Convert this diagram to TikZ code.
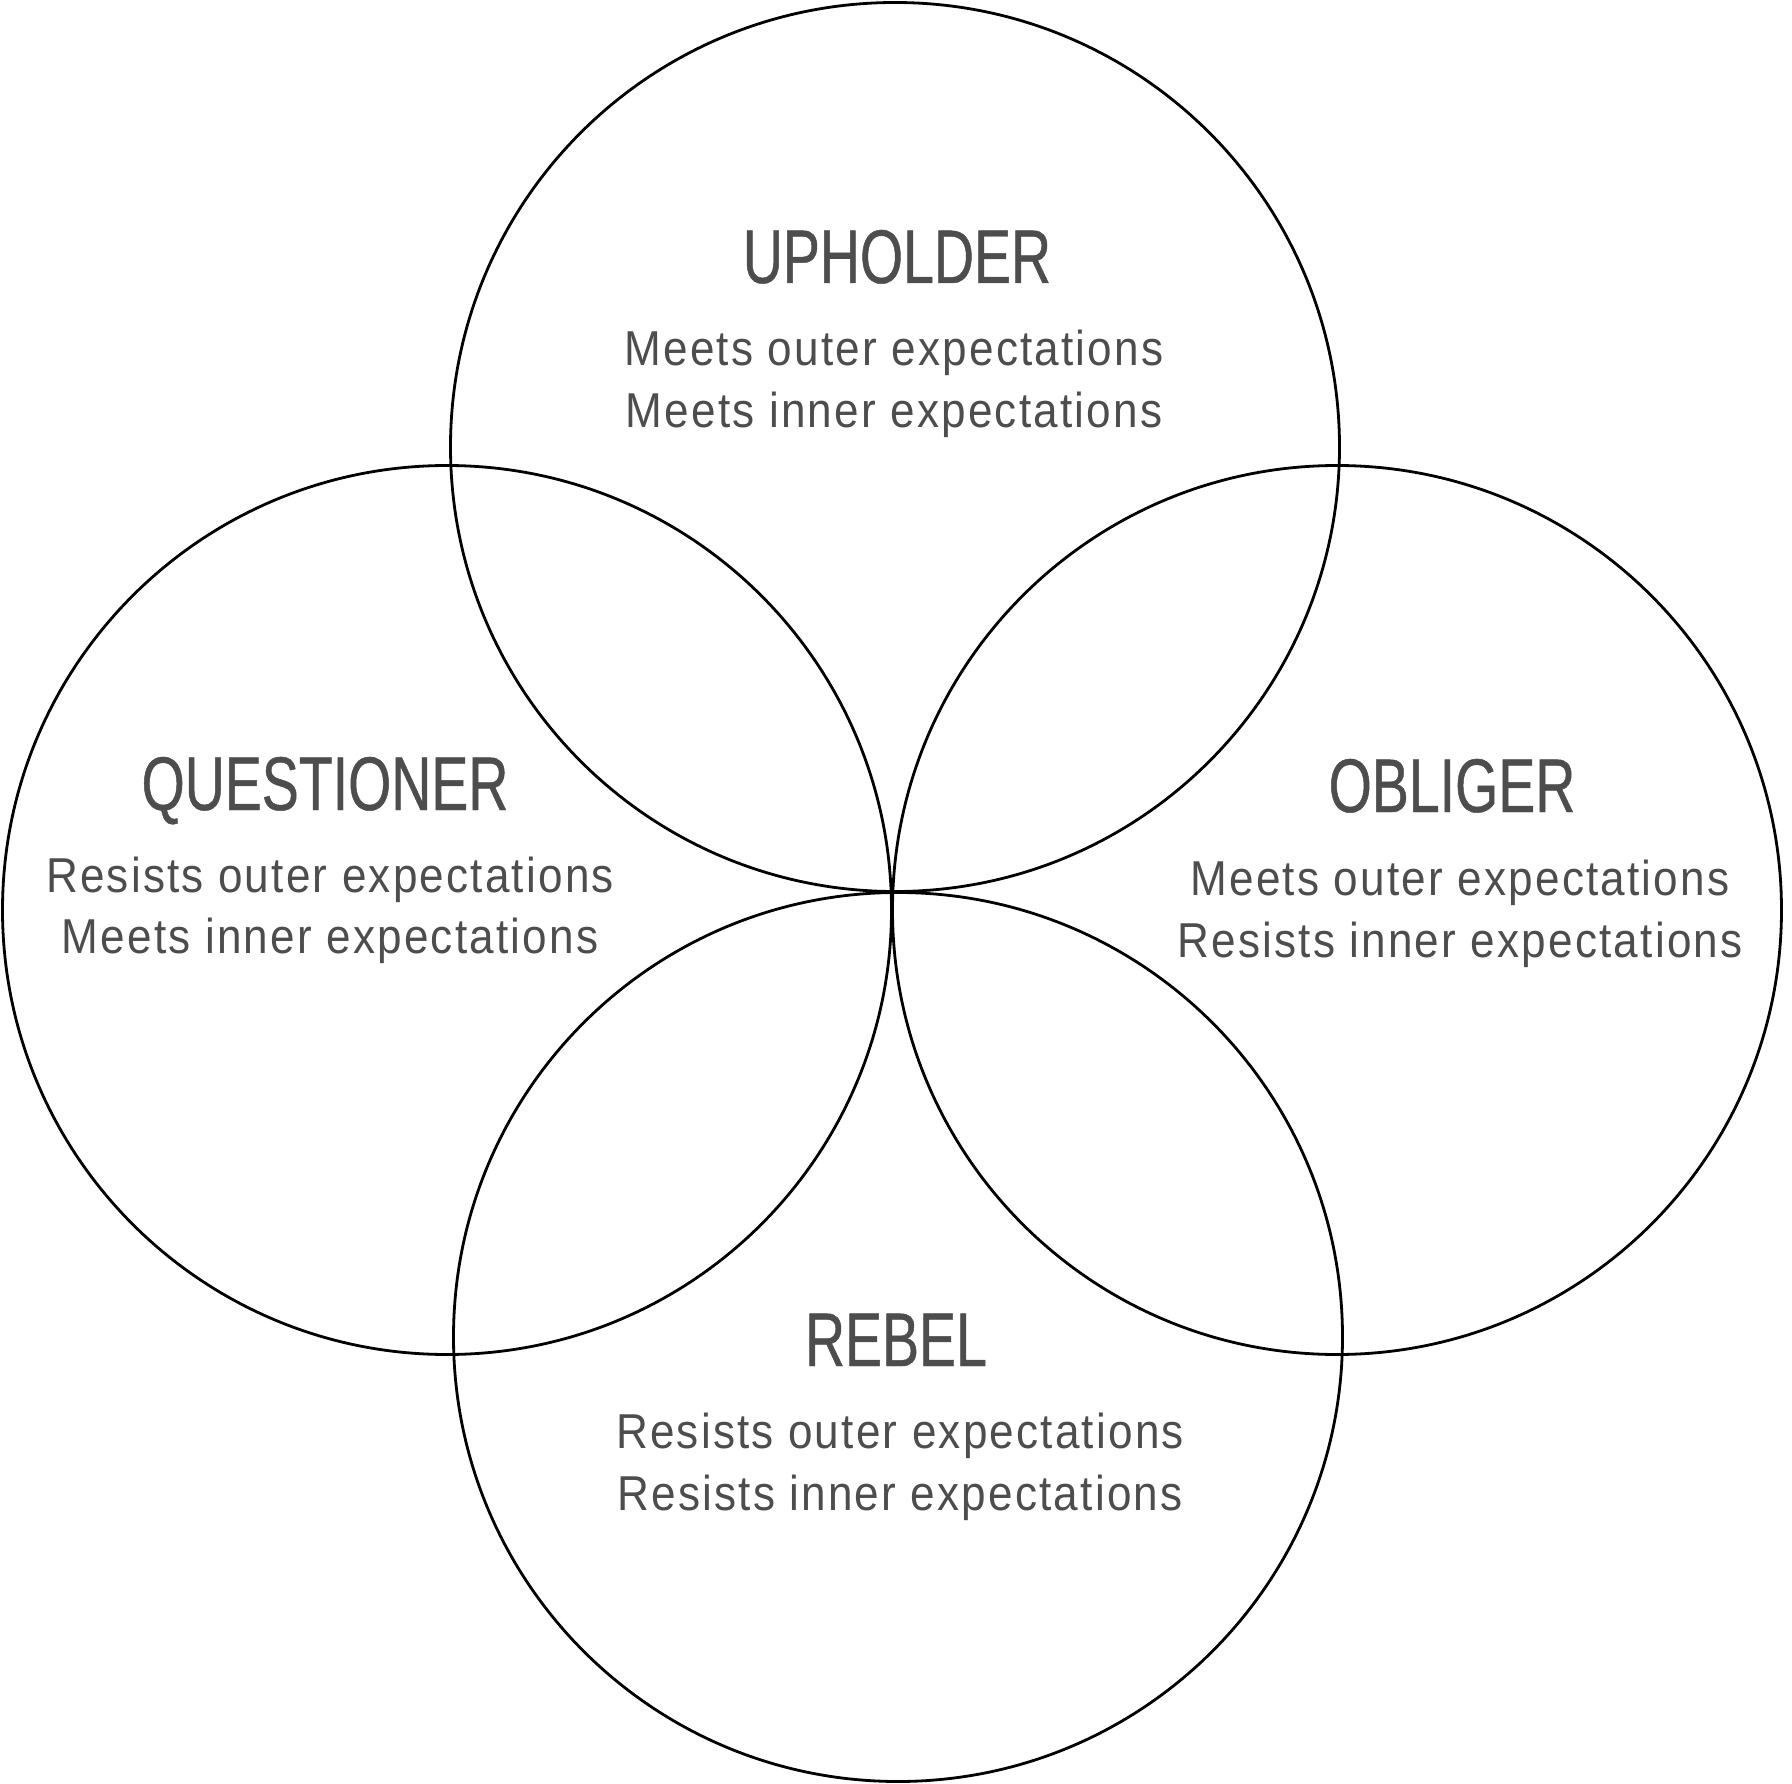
\documentclass[tikz,border=0pt]{standalone}
\usepackage{fontspec}
\newfontfamily\titlefont[FakeStretch=0.73,FakeBold=0.6]{Liberation Sans}
\newfontfamily\subfont[FakeStretch=0.9,LetterSpace=4.5]{Liberation Sans}
\definecolor{txt}{RGB}{77,77,77}
\begin{document}
\begin{tikzpicture}[x=1pt,y=-1pt,
  ring/.style={draw=black,line width=2.8pt,circle,minimum size=889pt,inner sep=0pt},
  title/.style={anchor=base,inner sep=0pt,text=txt,font=\titlefont\fontsize{76}{76}\selectfont},
  sub/.style={anchor=base,inner sep=0pt,text=txt,font=\subfont\fontsize{49}{49}\selectfont}]
\useasboundingbox (0,0) rectangle (1792,1784);
\node[ring] (ctop) at (895,447) {};
\node[ring] (cleft) at (447,910) {};
\node[ring] (cright) at (1337,910) {};
\node[ring] (cbot) at (898,1337) {};
% Upholder
\node[title] (uph) at (897,283) {UPHOLDER};
\node[sub] (uph1) at (894,366) {Meets outer expectations};
\node[sub] (uph2) at (894,428) {Meets inner expectations};
% Questioner
\node[title] (que) at (325,810) {QUESTIONER};
\node[sub] (que1) at (330,892) {Resists outer expectations};
\node[sub] (que2) at (330,953) {Meets inner expectations};
% Obliger
\node[title] (obl) at (1452,812) {OBLIGER};
\node[sub] (obl1) at (1460,895) {Meets outer expectations};
\node[sub] (obl2) at (1460,957) {Resists inner expectations};
% Rebel
\node[title] (reb) at (896,1366) {REBEL};
\node[sub] (reb1) at (900,1448) {Resists outer expectations};
\node[sub] (reb2) at (900,1510) {Resists inner expectations};
\end{tikzpicture}
\end{document}
